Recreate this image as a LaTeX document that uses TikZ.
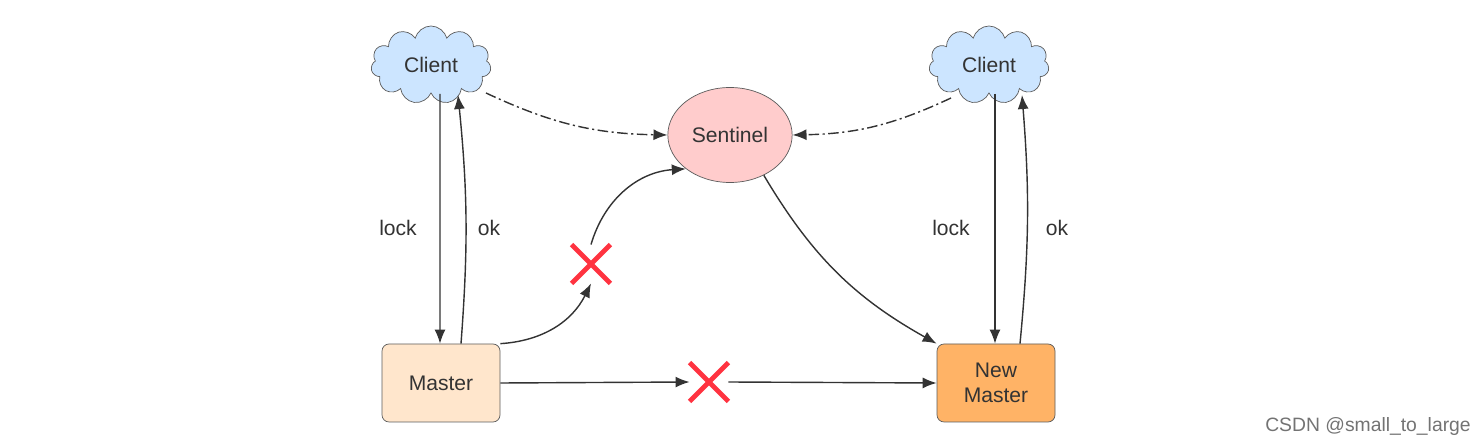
\documentclass[tikz,border=0pt]{standalone}
\usepackage{fontspec}
\setmainfont{Liberation Sans}
\usepackage{tikz}
\usetikzlibrary{shapes.geometric, shapes.symbols, shapes.misc, arrows.meta, positioning}
\definecolor{clientcolor}{RGB}{204, 229, 255}
\definecolor{sentinelcolor}{RGB}{255, 204, 204}
\definecolor{mastercolor}{RGB}{255, 230, 204}
\definecolor{newmastercolor}{RGB}{255, 179, 102}
\definecolor{crosscolor}{RGB}{255, 51, 64}
\definecolor{linecolor}{RGB}{51, 51, 51}
\definecolor{textcolor}{RGB}{51, 51, 51}

\begin{document}
\begin{tikzpicture}[
    client/.style={cloud, cloud puffs=11, aspect=1.55, draw=linecolor!80, fill=clientcolor, minimum width=2.4cm, minimum height=1.56cm, inner sep=0pt, font=\fontsize{12}{14}\selectfont, text=textcolor},
    sentinel/.style={ellipse, draw=linecolor!80, fill=sentinelcolor, minimum width=2.4cm, minimum height=1.9cm, font=\fontsize{12}{14}\selectfont, text=textcolor},
    server/.style={draw=linecolor!80, rounded corners=4pt, minimum width=2.36cm, minimum height=1.56cm, align=center, font=\fontsize{12}{14}\selectfont, text=textcolor},
    failed/.style={cross out, draw=crosscolor, line width=2.8pt, minimum size=0.68cm, inner sep=0pt},
    label/.style={font=\fontsize{12}{14}\selectfont, text=textcolor},
    arrow/.style={draw=linecolor, line width=0.8pt, -{Latex[length=0.28cm, width=0.22cm]}},
    dashdot/.style={arrow, dash pattern=on 6pt off 2pt on 1.2pt off 2pt}
]
    \useasboundingbox (0, 0) rectangle (29.64, 8.92);

    % Clients and sentinel
    \node[client] (clientL) at (8.62, 7.62) {Client};
    \node[client] (clientR) at (19.78, 7.62) {Client};
    \node[sentinel] (sentinel) at (14.6, 6.22) {Sentinel};

    % Masters
    \node[server, fill=mastercolor] (master) at (8.82, 1.26) {Master};
    \node[server, fill=newmastercolor] (newmaster) at (19.92, 1.26) {New\\Master};

    % Broken links
    \node[failed] (crossB) at (14.18, 1.28) {};
    \node[failed] (crossM) at (11.82, 3.64) {};

    % Lock requests
    \draw[arrow] ([xshift=0.18cm]clientL.south) -- ([xshift=-0.02cm]master.north);
    \draw[arrow] ([xshift=0.4cm]master.north) to[bend right=5] ([shift={(0.54cm, -0.6cm)}]clientL.center);
    \draw[arrow] ([xshift=0.12cm]clientR.south) -- ([xshift=-0.02cm]newmaster.north);
    \draw[arrow] ([xshift=0.48cm]newmaster.north) to[bend right=5] ([shift={(0.66cm, -0.6cm)}]clientR.center);

    \node[label] (lockL) at (7.96, 4.36) {lock};
    \node[label] (okL) at (9.78, 4.36) {ok};
    \node[label] (lockR) at (19.02, 4.36) {lock};
    \node[label] (okR) at (21.14, 4.36) {ok};

    % Sentinel watching
    \draw[dashdot] ([shift={(1.1cm, -0.56cm)}]clientL.center) to[bend right=12] (sentinel.west);
    \draw[dashdot] ([shift={(-0.76cm, -0.66cm)}]clientR.center) to[bend left=12] (sentinel.east);

    % Failover
    \draw[arrow] (master.north east) to[bend right=30] (crossM.south);
    \draw[arrow] (crossM.north) to[bend left=35] (sentinel.south west);
    \draw[arrow] (sentinel.-50) to[bend right=15] (newmaster.north west);

    % Replication
    \draw[arrow] (master.east) -- (crossB.west);
    \draw[arrow] (crossB.east) -- (newmaster.west);

    % Watermark
    \node[font=\fontsize{11}{13}\selectfont, text=black!55] (mark) at (27.36, 0.38) {CSDN @small\_to\_large};
\end{tikzpicture}
\end{document}
